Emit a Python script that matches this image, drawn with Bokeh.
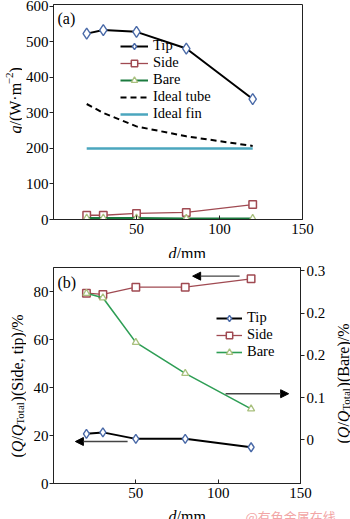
import numpy as np
from bokeh.plotting import figure
from bokeh.models import (Range1d, LinearAxis, FixedTicker, Label, Legend,
                          LegendItem, Arrow, NormalHead)
from bokeh.layouts import column, row
from bokeh.embed import file_html
from bokeh.resources import INLINE

# ---------------- data ----------------
d = [20, 30, 50, 80, 120]

# panel (a): heat flux q / (W m^-2)
q_tip = [523, 533, 528, 481, 339]
q_side = [12, 12, 17, 20, 42]
q_bare = [4, 4, 4, 3, 3]
q_ideal_tube = [325, 300, 262, 234, 207]
q_ideal_fin = [200, 200, 200, 200, 200]

# panel (b): Q/Q_total
ratio_tip = [20.7, 21.3, 18.6, 18.6, 15.1]       # left axis, %
ratio_side = [79.3, 78.8, 81.8, 81.8, 85.3]      # left axis, %
ratio_bare = [0.260, 0.252, 0.173, 0.118, 0.055]  # right axis, %

x_ticks = [50, 100, 150]
qa_ticks = [0, 100, 200, 300, 400, 500, 600]
lb_ticks = [0, 20, 40, 60, 80]
rb_ticks = [0, 0.075, 0.15, 0.225, 0.3]
rb_tick_labels = ["0", "0.1", "0.2", "0.2", "0.3"]

FONT = "Liberation Serif"
C_TIP = "#4a6aa8"
C_SIDE = "#a04a52"
C_BARE_M = "#a9c07e"
C_BARE_A = "#1b7a3e"
C_BARE_B = "#2e9e55"
C_FIN = "#4ba6be"

W = {'(': .333, ')': .333, '/': .278, 'Q': .722, 'q': .5, 'W': .944, '·': .25,
     'm': .778, '−': .564, '2': .5, 'T': .611, 'o': .5, 't': .278, 'a': .444,
     'l': .278, 'S': .556, 'i': .278, 'd': .5, 'e': .444, ',': .25, ' ': .25,
     'p': .5, '%': .833, 'B': .667, 'r': .333}


def twidth(s, size):
    return sum(W.get(c, .5) for c in s) * size


def strip(w, h):
    f = figure(width=w, height=h, min_border=0, min_border_left=0,
               min_border_right=0, min_border_top=0, min_border_bottom=0,
               x_axis_location=None, y_axis_location=None,
               toolbar_location=None, output_backend="svg",
               outline_line_color=None, x_range=Range1d(0, w),
               y_range=Range1d(0, h), background_fill_color="white",
               border_fill_color="white")
    f.xgrid.visible = False
    f.ygrid.visible = False
    return f


def rich(p, pieces, x0, y0, rotated):
    """Mixed-style text pieces; x0/y0 in px from the frame's bottom-left."""
    adv = 0.0
    for text, size, style, shift in pieces:
        if rotated:
            x, y, ang = x0 + shift, y0 + adv, np.pi / 2
        else:
            x, y, ang = x0 + adv, y0 - shift, 0
        p.add_layout(Label(x=x, y=y, x_units="screen", y_units="screen",
                           text=text, angle=ang, text_align="left",
                           text_baseline="alphabetic", text_font=FONT,
                           text_font_size=f"{size}px", text_font_style=style,
                           text_color="black"))
        adv += twidth(text, size)


def style_axis(ax, ticks, standoff, tin, tout):
    ax.ticker = FixedTicker(ticks=ticks)
    ax.major_tick_in = tin
    ax.major_tick_out = tout
    ax.minor_tick_line_color = None
    ax.axis_line_color = "#222222"
    ax.major_tick_line_color = "#222222"
    ax.major_label_text_font = FONT
    ax.major_label_text_font_size = "15px"
    ax.major_label_text_color = "black"
    ax.major_label_standoff = standoff


def base(width, height, left, right, top, bottom, yr):
    p = figure(width=width, height=height, x_range=Range1d(0, 150), y_range=yr,
               min_border_left=left, min_border_right=right,
               min_border_top=top, min_border_bottom=bottom,
               toolbar_location=None, output_backend="svg",
               background_fill_color="white", border_fill_color="white")
    p.xgrid.visible = False
    p.ygrid.visible = False
    p.outline_line_color = "#222222"
    style_axis(p.xaxis[0], x_ticks, 4, 4, 0)
    return p


def style_legend(lg, gw):
    lg.border_line_color = None
    lg.background_fill_alpha = 0
    lg.padding = 0
    lg.margin = 0
    lg.spacing = 0
    lg.glyph_width = gw
    lg.glyph_height = 16
    lg.label_height = 16
    lg.label_standoff = 5
    lg.label_text_font = FONT
    lg.label_text_font_size = "14.5px"
    lg.label_text_color = "black"


def panel_tag(p, text):
    p.add_layout(Label(x=4, y=201, x_units="screen", y_units="screen",
                       text=text, text_align="left", text_baseline="alphabetic",
                       text_font=FONT, text_font_size="16px",
                       text_color="black"))


# ---------------- panel (a) ----------------
pa = base(328, 240, 31, 48, 4, 21, Range1d(0, 605))
style_axis(pa.yaxis[0], qa_ticks, 1, 0, 4)

r_tip_l = pa.line(d, q_tip, line_color="black", line_width=2)
r_tip_m = pa.scatter(d, q_tip, marker="diamond", size=11,
                     fill_color="white", line_color=C_TIP, line_width=1.4)
r_side_l = pa.line(d, q_side, line_color=C_SIDE, line_width=1.3)
r_side_m = pa.scatter(d, q_side, marker="square", size=7.5, fill_color="white",
                      line_color=C_SIDE, line_width=1.5)
r_bare_l = pa.line(d, q_bare, line_color=C_BARE_A, line_width=2)
r_bare_m = pa.scatter(d, q_bare, marker="triangle", size=7, fill_color="white",
                      line_color=C_BARE_M, line_width=1.3)
r_tube = pa.line(d, q_ideal_tube, line_color="black", line_width=2,
                 line_dash="6 4")
r_fin = pa.line(d, q_ideal_fin, line_color=C_FIN, line_width=2.5)

leg_a = Legend(items=[
    LegendItem(label="Tip", renderers=[r_tip_l, r_tip_m]),
    LegendItem(label="Side", renderers=[r_side_l, r_side_m]),
    LegendItem(label="Bare", renderers=[r_bare_l, r_bare_m]),
    LegendItem(label="Ideal tube", renderers=[r_tube]),
    LegendItem(label="Ideal fin", renderers=[r_fin]),
], location=(67, 97))
style_legend(leg_a, 28)
pa.add_layout(leg_a)
panel_tag(pa, "(a)")

# the strip's frame is aligned with pa's frame, so y is from pa's frame bottom
yl_a = strip(22, 240)
rich(yl_a, [("q", 16, "italic", 0), ("/(W·m", 16, "normal", 0),
            ("−2", 11, "normal", -6), (")", 16, "normal", 0)],
     14.5, 86, True)

xl_a = strip(350, 18)
rich(xl_a, [("d", 16, "italic", 0), ("/mm", 16, "normal", 0)], 168, 5, False)

# ---------------- panel (b) ----------------
pb = base(302, 246, 27, 26, 9, 21, Range1d(0, 90))
style_axis(pb.yaxis[0], lb_ticks, 1, 0, 4)
pb.extra_y_ranges = {"r": Range1d(-0.0774, 0.3058)}
rax = LinearAxis(y_range_name="r")
style_axis(rax, rb_ticks, 2, 0, 4)
rax.major_label_overrides = {t: s for t, s in zip(rb_ticks, rb_tick_labels)}
pb.add_layout(rax, "right")

b_tip_l = pb.line(d, ratio_tip, line_color="black", line_width=2)
b_tip_m = pb.scatter(d, ratio_tip, marker="diamond", size=9,
                     fill_color="white", line_color=C_TIP, line_width=1.4)
b_side_l = pb.line(d, ratio_side, line_color=C_SIDE, line_width=1.3)
b_side_m = pb.scatter(d, ratio_side, marker="square", size=7.5,
                      fill_color="white", line_color=C_SIDE, line_width=1.5)
b_bare_l = pb.line(d, ratio_bare, line_color=C_BARE_B, line_width=1.6,
                   y_range_name="r")
b_bare_m = pb.scatter(d, ratio_bare, marker="triangle", size=7,
                      fill_color="white", line_color=C_BARE_M, line_width=1.3,
                      y_range_name="r")

leg_b = Legend(items=[
    LegendItem(label="Tip", renderers=[b_tip_l, b_tip_m]),
    LegendItem(label="Side", renderers=[b_side_l, b_side_m]),
    LegendItem(label="Bare", renderers=[b_bare_l, b_bare_m]),
], location=(163, 123))
style_legend(leg_b, 26)
pb.add_layout(leg_b)

# arrows pointing to the axis each series belongs to
arrow_tail_x = [45, 113, 104.5]
arrow_head_x = [13.3, 84.5, 142.8]
arrow_y = [17.5, 86.4, 37.4]
for x0, x1, y in zip(arrow_tail_x, arrow_head_x, arrow_y):
    pb.add_layout(Arrow(x_start=x0, y_start=y, x_end=x1, y_end=y,
                        line_color="#444444", line_width=1.3,
                        end=NormalHead(size=8, fill_color="black",
                                       line_color="black")))
panel_tag(pb, "(b)")

yl_b = strip(26, 246)
rich(yl_b, [("(", 16, "normal", 0), ("Q", 16, "italic", 0),
            ("/", 16, "normal", 0), ("Q", 16, "italic", 0),
            ("Total", 11, "normal", 3), (")(Side, tip)/%", 16, "normal", 0)],
     16.5, 26, True)

yr_b = strip(22, 246)
rich(yr_b, [("(", 16, "normal", 0), ("Q", 16, "italic", 0),
            ("/", 16, "normal", 0), ("Q", 16, "italic", 0),
            ("Total", 11, "normal", 3), (")(Bare)/%", 16, "normal", 0)],
     14.5, 40, True)

xl_b = strip(350, 15)
rich(xl_b, [("d", 16, "italic", 0), ("/mm", 16, "normal", 0)], 168, 3, False)
xl_b.add_layout(Label(x=245, y=3, x_units="screen", y_units="screen",
                      text="@有色金属在线", text_font="Noto Sans CJK SC",
                      text_font_size="13px", text_color="#f2a6a6",
                      text_baseline="alphabetic"))

layout = column(row(yl_a, pa), xl_a, row(yl_b, pb, yr_b), xl_b)
open("out.html", "w").write(file_html(layout, INLINE))
